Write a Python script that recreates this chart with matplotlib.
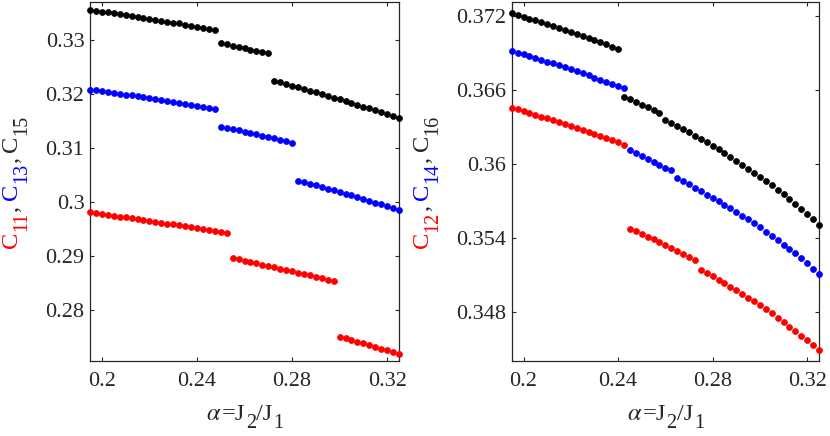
import matplotlib
matplotlib.use('Agg')
import matplotlib.pyplot as plt
from matplotlib.transforms import IdentityTransform

plt.rcParams['font.family'] = ['Liberation Serif', 'DejaVu Serif']
plt.rcParams['mathtext.fontset'] = 'stix'

# ---------------- data ----------------
ALPHA = [0.195, 0.1975, 0.2, 0.2025, 0.205, 0.2075, 0.21, 0.2125, 0.215, 0.2175,
         0.22, 0.2225, 0.225, 0.2275, 0.23, 0.2325, 0.235, 0.2375, 0.24, 0.2425,
         0.245, 0.2475, 0.25, 0.2525, 0.255, 0.2575, 0.26, 0.2625, 0.265, 0.2675,
         0.27, 0.2725, 0.275, 0.2775, 0.28, 0.2825, 0.285, 0.2875, 0.29, 0.2925,
         0.295, 0.2975, 0.3, 0.3025, 0.305, 0.3075, 0.31, 0.3125, 0.315, 0.3175,
         0.32, 0.3225, 0.325]

C11 = [0.29804, 0.29789, 0.29774, 0.29758, 0.29742, 0.29726, 0.29710, 0.29694,
       0.29678, 0.29662, 0.29646, 0.29630, 0.29614, 0.29598, 0.29581, 0.29564,
       0.29547, 0.29530, 0.29513, 0.29496, 0.29479, 0.29462, 0.29444, 0.29426,
       0.28957, 0.28933, 0.28909, 0.28885, 0.28860, 0.28835, 0.28810, 0.28785,
       0.28760, 0.28735, 0.28710, 0.28685, 0.28660, 0.28635, 0.28609, 0.28583,
       0.28557, 0.28531,
       0.27500, 0.27469, 0.27438, 0.27406, 0.27374, 0.27342, 0.27310, 0.27278,
       0.27245, 0.27212, 0.27180]

C13 = [0.32080, 0.32065, 0.32050, 0.32035, 0.32019, 0.32004, 0.31988, 0.31972,
       0.31956, 0.31940, 0.31923, 0.31907, 0.31890, 0.31873, 0.31856, 0.31839,
       0.31821, 0.31803, 0.31785, 0.31767, 0.31748, 0.31729,
       0.31394, 0.31371, 0.31348, 0.31324, 0.31300, 0.31276, 0.31252, 0.31228,
       0.31203, 0.31178, 0.31153, 0.31126, 0.31098,
       0.30394, 0.30365, 0.30335, 0.30305, 0.30275, 0.30244, 0.30213, 0.30182,
       0.30150, 0.30118, 0.30086, 0.30053, 0.30020, 0.29987, 0.29954, 0.29920,
       0.29886, 0.29852]

C15 = [0.33560, 0.33544, 0.33528, 0.33512, 0.33496, 0.33479, 0.33463, 0.33446,
       0.33429, 0.33412, 0.33395, 0.33377, 0.33360, 0.33342, 0.33324, 0.33306,
       0.33287, 0.33268, 0.33249, 0.33230, 0.33210, 0.33190,
       0.32940, 0.32917, 0.32894, 0.32870, 0.32847, 0.32823, 0.32799, 0.32775,
       0.32750,
       0.32246, 0.32216, 0.32186, 0.32155, 0.32124, 0.32093, 0.32062, 0.32030,
       0.31998, 0.31966, 0.31933, 0.31900, 0.31867, 0.31834, 0.31800, 0.31766,
       0.31732, 0.31697, 0.31662, 0.31627, 0.31592, 0.31556]

C12 = [0.36453, 0.36440, 0.36426, 0.36412, 0.36398, 0.36383, 0.36368, 0.36353,
       0.36338, 0.36323, 0.36307, 0.36291, 0.36275, 0.36259, 0.36243, 0.36226,
       0.36209, 0.36192, 0.36174, 0.36156,
       0.35474, 0.35453, 0.35432, 0.35410, 0.35388, 0.35365, 0.35342, 0.35318,
       0.35294, 0.35270, 0.35245, 0.35219,
       0.35144, 0.35117, 0.35089, 0.35061, 0.35033, 0.35005, 0.34976, 0.34947,
       0.34917, 0.34886, 0.34855, 0.34823, 0.34790, 0.34755, 0.34719, 0.34682,
       0.34644, 0.34607, 0.34570, 0.34533, 0.34496]

C14 = [0.36915, 0.36901, 0.36887, 0.36873, 0.36858, 0.36843, 0.36828, 0.36813,
       0.36797, 0.36781, 0.36765, 0.36749, 0.36733, 0.36716, 0.36699, 0.36682,
       0.36665, 0.36647, 0.36629, 0.36611,
       0.36110, 0.36087, 0.36064, 0.36041, 0.36017, 0.35994, 0.35970, 0.35946,
       0.35887, 0.35861, 0.35834, 0.35806, 0.35778, 0.35751, 0.35724, 0.35697,
       0.35670, 0.35641, 0.35611, 0.35581, 0.35551, 0.35518, 0.35485, 0.35451,
       0.35417, 0.35382, 0.35346, 0.35310, 0.35274, 0.35234, 0.35193, 0.35151,
       0.35109]

C16 = [0.37219, 0.37205, 0.37191, 0.37176, 0.37161, 0.37146, 0.37131, 0.37115,
       0.37099, 0.37083, 0.37067, 0.37051, 0.37035, 0.37018, 0.37001, 0.36984,
       0.36967, 0.36949, 0.36931,
       0.36543, 0.36522, 0.36500, 0.36478, 0.36457, 0.36435, 0.36413,
       0.36356, 0.36331, 0.36306, 0.36281, 0.36255, 0.36229, 0.36202, 0.36174,
       0.36145, 0.36116, 0.36086, 0.36055, 0.36024, 0.35992, 0.35959, 0.35926,
       0.35894, 0.35863, 0.35827, 0.35790, 0.35752, 0.35713, 0.35673, 0.35633,
       0.35592, 0.35550, 0.35508]

XTICKS = [0.2, 0.24, 0.28, 0.32]
XTICKLABELS = ['0.2', '0.24', '0.28', '0.32']
YTICKS_L = [0.28, 0.29, 0.30, 0.31, 0.32, 0.33]
YTICKLABELS_L = ['0.28', '0.29', '0.3', '0.31', '0.32', '0.33']
YTICKS_R = [0.348, 0.354, 0.360, 0.366, 0.372]
YTICKLABELS_R = ['0.348', '0.354', '0.36', '0.366', '0.372']

RED = '#ff0000'
BLUE = '#0000ff'
BLACK = '#000000'
AXC = '#262626'

W, H = 830, 436
fig = plt.figure(figsize=(W / 100, H / 100), dpi=100)

def px_axes(l, t, r, b):
    return fig.add_axes([l / W, 1 - b / H, (r - l) / W, (b - t) / H])

axL = px_axes(90, 1.7, 399, 361)
axR = px_axes(511.7, 1.7, 819, 361)

ms = 4.3
for ax, series, ylim, yt, ytl in [
    (axL, [(C11, RED), (C13, BLUE), (C15, BLACK)], (0.27049, 0.3371), YTICKS_L, YTICKLABELS_L),
    (axR, [(C12, RED), (C14, BLUE), (C16, BLACK)], (0.34403, 0.37313), YTICKS_R, YTICKLABELS_R),
]:
    for vals, col in series:
        ax.plot(ALPHA, vals, linestyle='none', marker='o', markersize=ms,
                markerfacecolor=col, markeredgecolor=col, markeredgewidth=0.5,
                clip_on=False, zorder=3)
    ax.set_xlim(0.195, 0.325)
    ax.set_ylim(*ylim)
    ax.set_xticks(XTICKS)
    ax.set_xticklabels(XTICKLABELS)
    ax.set_yticks(yt)
    ax.set_yticklabels(ytl)
    ax.tick_params(direction='in', length=3, width=0.8, colors=AXC,
                   labelsize=16, top=True, right=True)
    ax.tick_params(axis='y', pad=4)
    ax.tick_params(axis='x', pad=8)
    for sp in ax.spines.values():
        sp.set_color(AXC)
        sp.set_linewidth(0.9)

fig.canvas.draw()
renderer = fig.canvas.get_renderer()

MAIN = 17.6
SUB = 14.5
GAP = 5.5      # px, space after comma


def place_pieces(pieces, base, center, vertical, shift):
    """pieces: (string, colour, size, is_sub, extra_gap_after)"""
    texts, lens = [], []
    for s, c, size, is_sub, gap in pieces:
        kw = dict(color=c, fontsize=size, ha='left', va='baseline',
                  transform=IdentityTransform())
        if vertical:
            kw.update(rotation=90, rotation_mode='anchor')
        t = fig.text(0, 0, s, **kw)
        bb = t.get_window_extent(renderer)
        texts.append((t, is_sub))
        lens.append((bb.height if vertical else bb.width) + gap)
    pos = center - sum(lens) / 2
    for (t, is_sub), L in zip(texts, lens):
        off = shift if is_sub else 0.0
        if vertical:
            t.set_position((base + off, pos))
        else:
            t.set_position((pos, base - off))
        pos += L


def ylabel_pieces(a, b, c):
    return [('C', RED, MAIN, False, 0.5), (a, RED, SUB, True, 0),
            (',', AXC, MAIN, False, GAP),
            ('C', BLUE, MAIN, False, 0.5), (b, BLUE, SUB, True, 0),
            (',', AXC, MAIN, False, GAP),
            ('C', AXC, MAIN, False, 0.5), (c, AXC, SUB, True, 0)]


xl_pieces = [(r'$\alpha$', AXC, MAIN, False, 0.5), ('=J', AXC, MAIN, False, 0.5),
             ('2', AXC, SUB, True, 0.5), ('/J', AXC, MAIN, False, 0.5),
             ('1', AXC, SUB, True, 0)]

for ax, labs, off in [(axL, ('11', '13', '15'), 73.3), (axR, ('12', '14', '16'), 84.0)]:
    bb = ax.get_window_extent(renderer)
    place_pieces(ylabel_pieces(*labs), bb.x0 - off, (bb.y0 + bb.y1) / 2, True, 10.0)
    # x label: main baseline about 59 px below axes bottom
    place_pieces(xl_pieces, bb.y0 - 58.5, (bb.x0 + bb.x1) / 2, False, 8.0)

fig.savefig('out.png', dpi=100)
